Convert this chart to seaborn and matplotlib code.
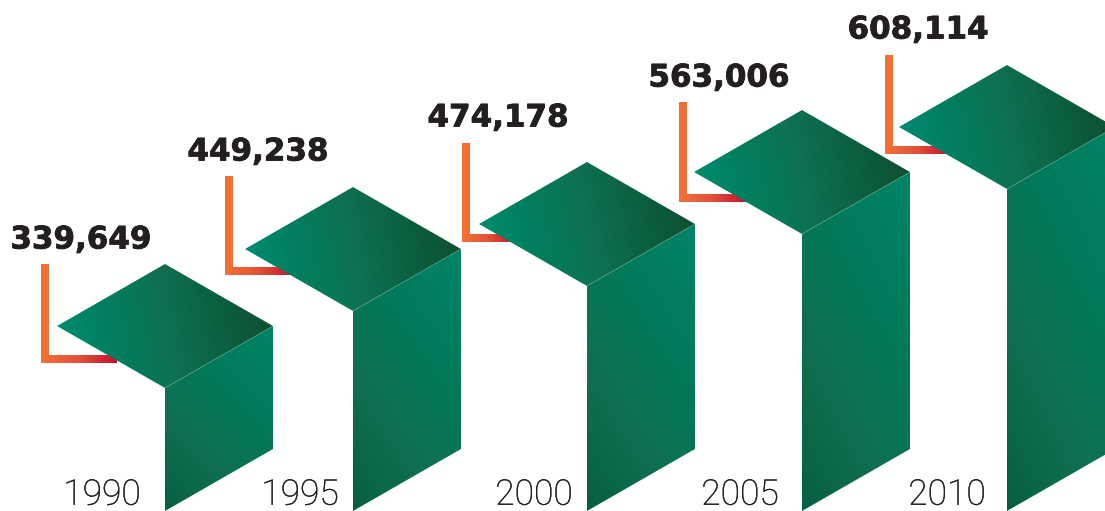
import matplotlib
matplotlib.use('Agg')
import matplotlib.pyplot as plt
import matplotlib.patheffects as pe
import seaborn as sns
import numpy as np
from matplotlib.patches import Polygon

years = ['1990', '1995', '2000', '2005', '2010']
values = [339649, 449238, 474178, 563006, 608114]
# bar heights as they are drawn (not quite proportional in the original graphic)
drawn_heights = [123, 200, 225, 277, 322]

W, H = 1105, 511
HALF_W, HALF_H = 108, 62
LEADER_W = 8

front_x = [165, 353, 587, 802, 1007]
leader_x = [45, 229, 466, 683, 889]
leader_bottom = [359, 271, 238, 198, 150]
leader_len = [95, 95, 95, 96, 95]
leader_run = [72, 65, 50, 63, 60]
label_x = [81, 258, 498, 719, 918]
label_y = [240, 152, 118, 78, 30]
year_x = [102, 300, 534, 740, 947]

sns.set_theme(style='white')
plt.rcParams['font.family'] = ['DejaVu Sans']

top_cmap = sns.blend_palette(['#008f72', '#007f60', '#0f7053', '#0a5f3f', '#124b2d'], as_cmap=True)
side_cmap = sns.blend_palette(['#05603f', '#106f52', '#007a5c', '#008468'], as_cmap=True)
run_cmap = sns.blend_palette(['#f47236', '#e0503a', '#c8102e'], as_cmap=True)


def gradient_fill(ax, pts, cmap, direction, zorder):
    pts = np.array(pts, dtype=float)
    x0, y0 = pts.min(axis=0)
    x1, y1 = pts.max(axis=0)
    xx, yy = np.meshgrid(np.linspace(x0, x1, 200), np.linspace(y0, y1, 200))
    t = (xx - x0) / (x1 - x0) * direction[0] + (yy - y0) / (y1 - y0) * direction[1]
    t = (t - t.min()) / (t.max() - t.min())
    im = ax.imshow(t, extent=(x0, x1, y0, y1), origin='lower', cmap=cmap, aspect='auto', zorder=zorder)
    clip = Polygon(pts, closed=True, fill=False, edgecolor='none', zorder=zorder)
    ax.add_patch(clip)
    im.set_clip_path(clip)


fig = plt.figure(figsize=(W / 100, H / 100), dpi=100)
ax = fig.add_axes([0, 0, 1, 1])

for i, year in enumerate(years):
    fx = front_x[i]
    h = drawn_heights[i]

    # leader line behind the bar
    lx = leader_x[i]
    ly = H - leader_bottom[i]
    ax.fill_between([lx - LEADER_W / 2, lx + LEADER_W / 2], ly - LEADER_W / 2, ly + leader_len[i],
                    color='#f37035', lw=0, zorder=1)
    gradient_fill(ax, [(lx - LEADER_W / 2, ly - LEADER_W / 2), (lx + leader_run[i], ly - LEADER_W / 2),
                       (lx + leader_run[i], ly + LEADER_W / 2), (lx - LEADER_W / 2, ly + LEADER_W / 2)],
                  run_cmap, (1, 0), 1.5)

    # side face
    side = [(fx, 0), (fx + HALF_W, HALF_H), (fx + HALF_W, h + HALF_H), (fx, h)]
    gradient_fill(ax, side, side_cmap, (0.6, 1), 2)

    # top face
    top = [(fx, h), (fx + HALF_W, h + HALF_H), (fx, h + 2 * HALF_H), (fx - HALF_W, h + HALF_H)]
    gradient_fill(ax, top, top_cmap, (1, 0.12), 3)
    ax.plot([fx, fx + HALF_W], [h, h + HALF_H], color='#6fb39d', lw=0.4, alpha=0.7, zorder=4)

    ax.text(label_x[i], H - label_y[i], f'{values[i]:,}', ha='center', va='center',
            fontsize=22.3, fontweight='bold', color='#231f20', zorder=5,
            path_effects=[pe.withStroke(linewidth=0.6, foreground='#231f20')])
    ax.text(year_x[i], H - 495, year, ha='center', va='center', family='Roboto',
            fontsize=25.5, fontweight='light', color='#231f20', zorder=5,
            path_effects=[pe.withStroke(linewidth=0.25, foreground='#231f20')])

ax.set_xlim(0, W)
ax.set_ylim(0, H)
ax.axis('off')
fig.savefig('out.png', dpi=100, facecolor='white')
